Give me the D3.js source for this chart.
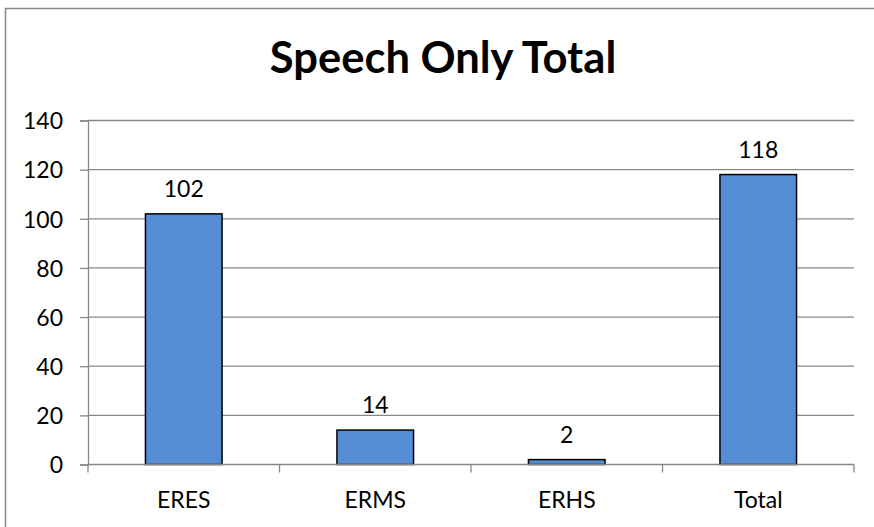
<!DOCTYPE html>
<html>
<head>
<meta charset="utf-8">
<script src="https://cdn.jsdelivr.net/npm/d3@7"></script>
<style>
  html, body { margin: 0; padding: 0; background: #fff; overflow: hidden; }
  svg { display: block; }
  text { font-variant-numeric: tabular-nums; font-feature-settings: "tnum" 1; }
</style>
</head>
<body>
<script>
const title = "Speech Only Total";
const categories = ["ERES", "ERMS", "ERHS", "Total"];
const values = [102, 14, 2, 118];
const yTicks = [0, 20, 40, 60, 80, 100, 120, 140];

(function () {
const W = 874, H = 527;
const pLeft = 88, pRight = 854, pTop = 120.5, pBottom = 464.5;
const font = "Lato, 'Open Sans', sans-serif";

const svg = d3.select("body").append("svg").attr("width", W).attr("height", H);

// chart border (only left and top edges fall inside the picture)
svg.append("path").attr("d", `M5.5,${H + 5} V8.5 H${W + 5}`)
  .attr("fill", "none").attr("stroke", "#888").attr("stroke-width", 1.5);

svg.append("text").attr("x", 443).attr("y", 73).attr("text-anchor", "middle")
  .attr("font-family", font).attr("font-weight", "bold").attr("font-size", 43.5)
  .attr("fill", "#000").text(title);

const x = d3.scaleBand().domain(categories).range([pLeft, pRight]).paddingInner(0.6).paddingOuter(0.3);
const y = d3.scaleLinear().domain([0, 140]).range([pBottom, pTop]);

// gridlines
svg.append("g").selectAll("line").data(yTicks.filter(d => d > 0)).join("line")
  .attr("x1", pLeft).attr("x2", pRight).attr("y1", d => y(d)).attr("y2", d => y(d))
  .attr("stroke", "#878787").attr("stroke-width", 1.3);

// y axis
const yAxis = svg.append("g").attr("transform", `translate(${pLeft},0)`)
  .call(d3.axisLeft(y).tickValues(yTicks).tickSize(8).tickPadding(8));
yAxis.select(".domain").attr("stroke", "#878787").attr("stroke-width", 1.3);
yAxis.selectAll(".tick line").attr("stroke", "#878787").attr("stroke-width", 1.3);
yAxis.selectAll(".tick text").attr("font-family", font).attr("font-size", 23).attr("fill", "#000")
  .attr("x", -25).attr("dy", "0.36em");

// bars
svg.append("g").selectAll("rect").data(values).join("rect")
  .attr("x", (d, i) => x(categories[i])).attr("width", x.bandwidth())
  .attr("y", d => y(d)).attr("height", d => y(0) - y(d))
  .attr("fill", "#558ED5").attr("stroke", "#000").attr("stroke-width", 1.5);

// x axis
const boundaries = d3.range(categories.length + 1).map(i => pLeft + i * (pRight - pLeft) / categories.length);
svg.append("line").attr("x1", pLeft).attr("x2", pRight).attr("y1", y(0)).attr("y2", y(0))
  .attr("stroke", "#878787").attr("stroke-width", 1.3);
svg.append("g").selectAll("line").data(boundaries).join("line")
  .attr("x1", d => d).attr("x2", d => d).attr("y1", y(0)).attr("y2", y(0) + 8)
  .attr("stroke", "#878787").attr("stroke-width", 1.3);
svg.append("g").selectAll("text").data(categories).join("text")
  .attr("x", d => x(d) + x.bandwidth() / 2).attr("y", 508)
  .attr("text-anchor", "middle").attr("font-family", font).attr("font-size", 23).attr("fill", "#000")
  .text(d => d);

// value labels
svg.append("g").selectAll("text").data(values).join("text")
  .attr("x", (d, i) => x(categories[i]) + x.bandwidth() / 2).attr("y", d => y(d) - 17)
  .attr("text-anchor", "middle").attr("font-family", font).attr("font-size", 23).attr("fill", "#000")
  .text(d => d);
})();
</script>
</body>
</html>
